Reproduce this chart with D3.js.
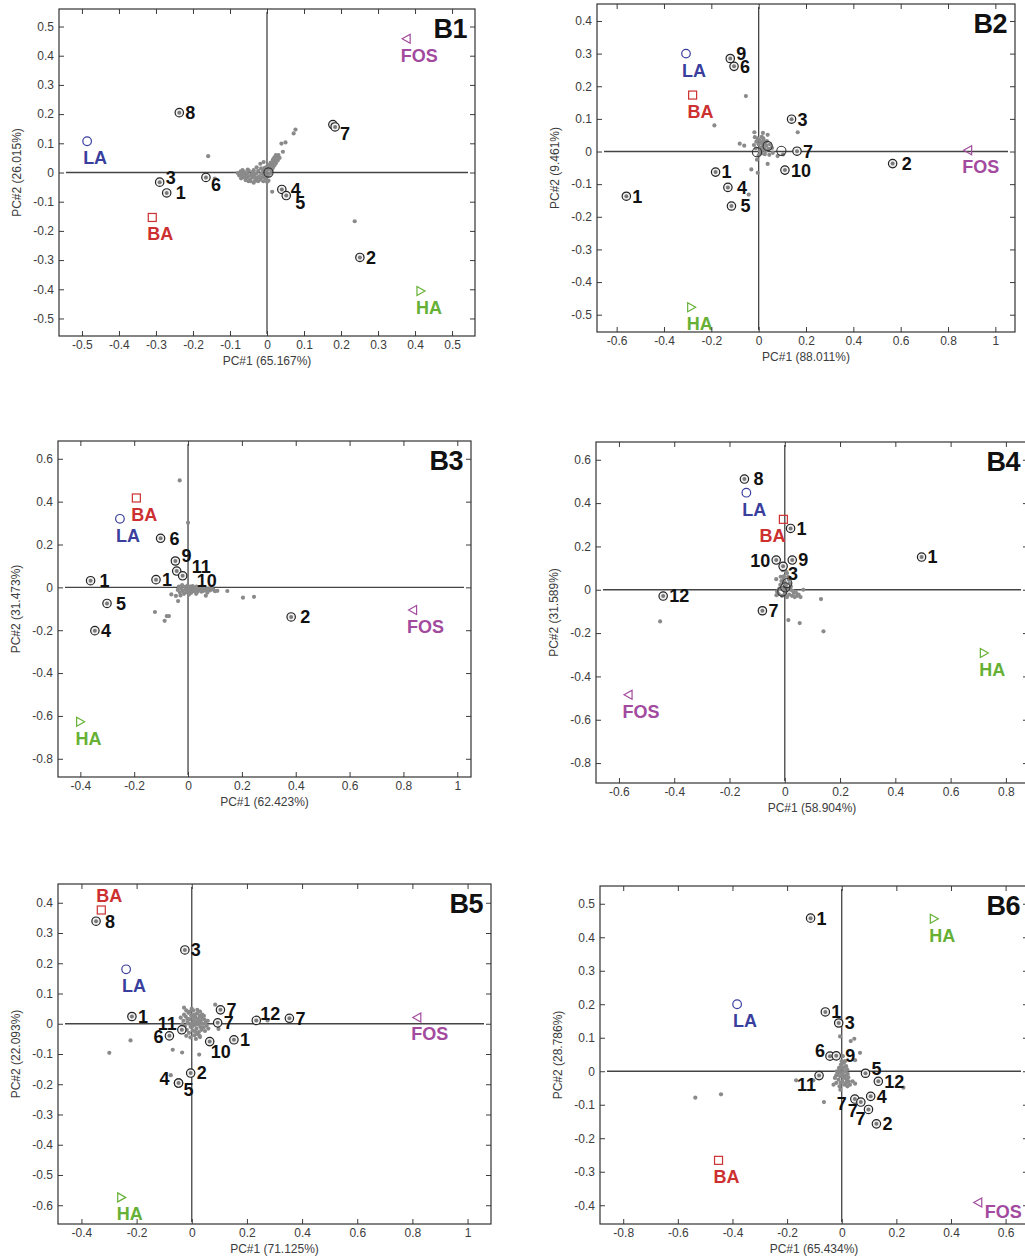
<!DOCTYPE html>
<html>
<head>
<meta charset="utf-8">
<script src="https://cdn.jsdelivr.net/npm/d3@7"></script>
<style>
  body { margin: 0; background: #fff; }
  svg text { font-family: "Liberation Sans", Arial, Helvetica, sans-serif; }
</style>
</head>
<body>
<svg id="chart" width="1025" height="1260"></svg>
<script>
// ---------- data ----------
const refNames = ["LA", "BA", "FOS", "HA"];
const refColors = ["#3a3f9e", "#cc3030", "#a24a9e", "#66b135"];

// B1
const b1Var = ["65.167%", "26.015%"];
const b1XDom = [-0.562, 0.562], b1YDom = [-0.56, 0.56];
const b1XTicks = [-0.5, -0.4, -0.3, -0.2, -0.1, 0, 0.1, 0.2, 0.3, 0.4, 0.5];
const b1YTicks = [-0.5, -0.4, -0.3, -0.2, -0.1, 0, 0.1, 0.2, 0.3, 0.4, 0.5];
const b1Refs = [[-0.486, 0.107], [-0.310, -0.154], [0.376, 0.458], [0.416, -0.406]];
const b1Pts = [[-0.237, 0.205, "8"], [-0.290, -0.033, "3"], [-0.271, -0.070, "1"], [-0.165, -0.017, "6"],
  [0.040, -0.058, "4"], [0.052, -0.079, "5"], [0.178, 0.164, ""], [0.184, 0.156, "7"], [0.251, -0.291, "2"]];
const b1Rings = [[0.004, 0.0]];
const b1Gray = [[-0.079,-0.002],[-0.075,-0.010],[-0.071,0.004],[-0.068,-0.006],[-0.065,-0.016],[-0.062,0.002],
  [-0.060,-0.009],[-0.057,-0.020],[-0.054,-0.003],[-0.051,-0.013],[-0.049,0.006],[-0.046,-0.024],[-0.043,-0.008],
  [-0.040,-0.017],[-0.038,0.001],[-0.035,-0.011],[-0.032,-0.028],[-0.029,-0.004],[-0.027,-0.019],[-0.024,0.006],
  [-0.021,-0.013],[-0.018,-0.024],[-0.015,-0.003],[-0.012,-0.016],[-0.010,0.008],[-0.007,-0.008],[-0.004,-0.021],
  [-0.002,0.004],[0.002,-0.012],[0.005,0.012],[0.008,-0.004],[0.010,0.020],[0.012,0.008],[0.014,0.028],[0.016,0.016],
  [0.018,0.036],[0.020,0.024],[0.022,0.044],[0.024,0.032],[0.026,0.052],[0.029,0.041],[0.031,0.060],[0.034,0.050],
  [-0.018,0.030],[-0.009,0.036],[-0.028,0.018],[-0.036,-0.035],[0.014,-0.066],[0.039,0.099],[0.050,0.103],
  [0.043,0.071],[0.072,0.134],[0.077,0.147],[-0.159,0.056],[0.237,-0.167],[-0.141,-0.021],[-0.050,-0.030],[0.004,-0.028],
  [-0.070,-0.020],[-0.066,0.008],[-0.058,-0.026],[-0.052,0.010],[-0.044,-0.030],[-0.036,0.008],[-0.030,-0.020],
  [-0.024,-0.030],[-0.016,0.014],[-0.006,0.016],[0.000,0.020],[0.006,0.026],[0.010,0.034],[0.016,0.044],
  [0.020,0.052],[0.024,0.060],[0.000,-0.032],[-0.010,-0.030]];

// B2
const b2Var = ["88.011%", "9.461%"];
const b2XDom = [-0.683, 1.083], b2YDom = [-0.553, 0.452];
const b2XTicks = [-0.6, -0.4, -0.2, 0, 0.2, 0.4, 0.6, 0.8, 1];
const b2YTicks = [-0.5, -0.4, -0.3, -0.2, -0.1, 0, 0.1, 0.2, 0.3, 0.4];
const b2Refs = [[-0.307, 0.300], [-0.279, 0.173], [0.883, 0.004], [-0.283, -0.477]];
const b2Pts = [[-0.120, 0.285, "9"], [-0.104, 0.261, "6"], [0.139, 0.099, "3"], [0.162, 0.001, "7"],
  [0.111, -0.057, "10"], [-0.182, -0.063, "1"], [-0.130, -0.110, "4"], [-0.115, -0.167, "5"],
  [-0.559, -0.137, "1"], [0.566, -0.037, "2"]];
const b2Rings = [[0.096, 0.002], [0.038, 0.017], [-0.007, -0.002]];
const b2Gray = [[-0.054,0.170],[-0.187,0.080],[0.165,0.059],[-0.080,0.024],[-0.061,0.018],[-0.018,0.059],[0.018,0.057],
  [0.038,0.051],[0.056,0.011],[0.080,-0.014],[0.103,-0.009],[0.038,-0.038],[-0.007,-0.025],[-0.031,-0.055],
  [-0.004,-0.065],[-0.042,-0.132],[-0.010,0.030],[-0.005,0.040],[0.000,0.022],[0.004,0.035],[0.008,0.012],
  [0.010,0.028],[0.013,0.045],[0.015,0.005],[0.018,0.020],[0.021,0.033],[0.024,0.010],[0.027,0.025],[0.030,0.002],
  [0.033,0.018],[0.005,0.002],[-0.012,0.010],[0.012,-0.006],[0.026,-0.008],[0.042,0.008],[0.048,0.022],
  [0.060,-0.004],[-0.020,0.020],[0.000,-0.012],[0.020,0.040],[0.035,0.032],[0.045,-0.010],[-0.016,0.044]];

// B3
const b3Var = ["62.423%", "31.473%"];
const b3XDom = [-0.483, 1.051], b3YDom = [-0.885, 0.683];
const b3XTicks = [-0.4, -0.2, 0, 0.2, 0.4, 0.6, 0.8, 1];
const b3YTicks = [-0.8, -0.6, -0.4, -0.2, 0, 0.2, 0.4, 0.6];
const b3Refs = [[-0.253, 0.320], [-0.192, 0.417], [0.834, -0.106], [-0.399, -0.627]];
const b3Pts = [[-0.102, 0.229, "6"], [-0.047, 0.123, "9"], [-0.042, 0.076, "11"], [-0.020, 0.054, "10"],
  [-0.119, 0.036, "1"], [-0.362, 0.031, "1"], [-0.301, -0.075, "5"], [-0.346, -0.202, "4"], [0.383, -0.138, "2"]];
const b3Rings = [];
const b3Gray = [[-0.031,0.499],[0.000,0.302],[-0.062,-0.033],[-0.037,-0.064],[-0.123,-0.115],[-0.087,-0.156],
  [-0.079,-0.134],[-0.071,-0.134],[0.146,-0.017],[0.204,-0.048],[0.245,-0.044],[0.066,-0.039],[0.109,-0.016],
  [-0.038,-0.012],[-0.034,0.004],[-0.030,-0.024],[-0.026,-0.006],[-0.022,0.010],[-0.019,-0.016],[-0.015,-0.030],
  [-0.012,0.002],[-0.009,-0.010],[-0.005,-0.022],[-0.002,0.008],[0.002,-0.004],[0.005,-0.016],[0.008,0.004],
  [0.011,-0.026],[0.014,-0.008],[0.017,0.006],[0.020,-0.018],[0.024,-0.002],[0.027,-0.012],[0.031,0.004],
  [0.034,-0.022],[0.038,-0.006],[0.042,-0.014],[0.046,0.002],[0.050,-0.020],[0.054,-0.008],[0.058,-0.016],
  [0.062,-0.002],[0.067,-0.012],[0.072,-0.024],[0.077,-0.006],[0.082,-0.014],[0.088,-0.004],[0.094,-0.010],
  [0.100,-0.018],[-0.045,-0.040],[-0.028,-0.038],[0.003,-0.034],[0.030,-0.030]];

// B4
const b4Var = ["58.904%", "31.589%"];
const b4XDom = [-0.683, 0.880], b4YDom = [-0.892, 0.682];
const b4XTicks = [-0.6, -0.4, -0.2, 0, 0.2, 0.4, 0.6, 0.8];
const b4YTicks = [-0.8, -0.6, -0.4, -0.2, 0, 0.2, 0.4, 0.6];
const b4Refs = [[-0.139, 0.448], [-0.005, 0.325], [-0.567, -0.485], [0.722, -0.292]];
const b4Pts = [[-0.146, 0.511, "8"], [0.021, 0.283, "1"], [-0.031, 0.137, "10"], [0.027, 0.137, "9"],
  [-0.006, 0.108, "3"], [-0.440, -0.029, "12"], [-0.081, -0.097, "7"], [0.495, 0.151, "1"]];
const b4Rings = [[0.009, 0.031], [0.002, 0.011], [-0.009, -0.008]];
const b4Gray = [[-0.451,-0.146],[0.131,-0.043],[0.140,-0.192],[0.054,-0.154],[0.013,-0.140],[-0.031,0.049],
  [0.067,0.000],[0.057,-0.034],[-0.004,0.062],[0.008,0.077],[0.015,0.046],[-0.016,0.023],[0.002,0.015],
  [0.021,0.000],[0.033,-0.015],[0.045,-0.028],[-0.028,-0.008],[-0.010,-0.028],[0.008,-0.034],[-0.008,0.090],
  [0.004,0.085],[0.012,0.060],[-0.012,0.040],[0.000,0.035],[0.018,0.030],[-0.020,0.005],[-0.005,0.000],
  [0.010,0.005],[0.028,-0.005],[0.040,-0.012],[0.050,-0.022],[-0.022,-0.020],[0.000,-0.018],[0.016,-0.022],
  [0.026,-0.028],[0.036,-0.034],[-0.004,0.050],[0.006,0.025],[-0.030,-0.025],[0.022,0.015],[-0.015,0.060]];

// B5
const b5Var = ["71.125%", "22.093%"];
const b5XDom = [-0.485, 1.085], b5YDom = [-0.662, 0.462];
const b5XTicks = [-0.4, -0.2, 0, 0.2, 0.4, 0.6, 0.8, 1];
const b5YTicks = [-0.6, -0.5, -0.4, -0.3, -0.2, -0.1, 0, 0.1, 0.2, 0.3, 0.4];
const b5Refs = [[-0.238, 0.180], [-0.328, 0.376], [0.816, 0.021], [-0.254, -0.574]];
const b5Pts = [[-0.347, 0.339, "8"], [-0.025, 0.244, "3"], [-0.217, 0.024, "1"], [-0.036, -0.020, "11"],
  [-0.081, -0.040, "6"], [0.104, 0.046, "7"], [0.094, 0.003, "7"], [0.234, 0.011, "12"], [0.354, 0.018, "7"],
  [0.153, -0.053, "1"], [0.065, -0.059, "10"], [-0.004, -0.163, "2"], [-0.048, -0.196, "4"], [-0.048, -0.196, "5"]];
const b5Rings = [];
const b5Gray = [[-0.028,0.053],[0.085,0.063],[-0.069,-0.086],[-0.035,-0.095],[0.027,-0.102],[-0.076,-0.170],
  [-0.222,-0.055],[-0.299,-0.096],[0.097,-0.017],[0.030,-0.044],[0.275,0.011],[-0.030,0.010],[-0.025,-0.008],
  [-0.022,0.024],[-0.018,-0.020],[-0.015,0.004],[-0.012,0.036],[-0.010,-0.030],[-0.007,0.015],[-0.004,-0.010],
  [-0.002,0.028],[0.001,0.002],[0.003,-0.022],[0.005,0.044],[0.007,0.012],[0.009,-0.038],[0.011,-0.004],
  [0.013,0.022],[0.015,0.008],[0.017,-0.016],[0.019,0.034],[0.021,-0.002],[0.023,0.016],[0.025,-0.028],
  [0.027,0.004],[0.029,0.026],[0.031,-0.010],[0.033,0.010],[0.035,-0.020],[0.037,0.020],[0.040,0.000],
  [0.043,-0.012],[0.046,0.014],[0.050,0.004],[0.054,-0.006],[-0.020,0.044],[0.000,0.050],[0.020,0.046],
  [-0.005,-0.045],[0.015,-0.050],[-0.035,-0.002],[0.058,0.010],[0.010,0.030],[-0.010,0.000],[0.030,0.040],
  [-0.028,0.030],[-0.016,0.016],[-0.008,0.040],[0.004,0.024],[0.012,-0.026],[0.020,-0.034],[0.028,-0.040],
  [0.038,0.030],[0.044,0.026],[0.048,-0.024],[0.002,-0.008],[0.016,0.000],[0.024,0.004],[0.008,0.006],
  [-0.020,-0.040],[0.060,-0.016],[-0.040,0.020]];

// B6
const b6Var = ["65.434%", "28.786%"];
const b6XDom = [-0.885, 0.682], b6YDom = [-0.456, 0.553];
const b6XTicks = [-0.8, -0.6, -0.4, -0.2, 0, 0.2, 0.4, 0.6];
const b6YTicks = [-0.4, -0.3, -0.2, -0.1, 0, 0.1, 0.2, 0.3, 0.4, 0.5];
const b6Refs = [[-0.383, 0.200], [-0.451, -0.266], [0.498, -0.392], [0.339, 0.455]];
const b6Pts = [[-0.114, 0.457, "1"], [-0.060, 0.177, "1"], [-0.011, 0.144, "3"], [-0.043, 0.045, "6"],
  [-0.020, 0.046, "9"], [0.087, -0.006, "5"], [-0.083, -0.013, "11"], [0.134, -0.030, "12"], [0.106, -0.075, "4"],
  [0.048, -0.083, "7"], [0.070, -0.092, "7"], [0.098, -0.114, "7"], [0.127, -0.157, "2"]];
const b6Rings = [];
const b6Gray = [[-0.006,0.104],[0.033,0.090],[0.046,0.097],[0.067,0.055],[0.049,0.033],[0.049,-0.037],
  [0.021,-0.045],[-0.167,-0.027],[-0.104,-0.027],[-0.065,-0.092],[0.226,-0.049],[-0.536,-0.079],[-0.442,-0.069],
  [0.040,-0.030],[-0.025,-0.020],[-0.020,-0.035],[-0.016,-0.010],[-0.012,-0.025],[-0.010,0.010],[-0.008,-0.045],
  [-0.005,-0.015],[-0.003,0.020],[0.000,-0.005],[0.002,-0.030],[0.004,0.008],[0.006,-0.018],[0.008,0.025],
  [0.010,-0.040],[0.012,0.000],[0.014,-0.012],[0.016,0.015],[0.018,-0.025],[0.022,-0.008],[0.026,-0.030],
  [-0.018,0.000],[0.000,0.030],[-0.030,-0.040],[0.030,-0.040],[-0.005,-0.055],[0.020,0.005],
  [-0.012,-0.005],[0.004,-0.010],[0.010,-0.020],[-0.004,-0.035],[0.016,-0.035],[0.008,0.012],[-0.008,0.004],
  [0.024,-0.018],[0.000,0.012],[-0.020,-0.012],[0.012,0.030],[0.004,0.045]];

// ---------- layout ----------
// label placement around each marked point: [dx, dy(center), anchor]
const nudge = {
  e: [6, 0, "start"], E: [9, 0, "start"], ne: [6, -5, "start"], NE: [4, -7, "start"],
  se: [5, 7, "start"], SE: [9, 7, "start"], s: [1, 10, "start"], ee: [15, -4, "start"], ese: [14, 5, "start"],
  w: [-6, 1, "end"], wnw: [-9, -4, "end"], wsw: [-8, 5, "end"], nw: [-5, -6, "end"], sw: [-3, 9, "end"]
};
const panels = [
  { name: "B1", box: [59, 9, 475, 336], v: b1Var, xd: b1XDom, yd: b1YDom, xt: b1XTicks, yt: b1YTicks,
    refs: b1Refs, refSide: ["b", "b", "b", "b"], pts: b1Pts, rings: b1Rings, gray: b1Gray,
    side: ["e", "ne", "E", "se", "E", "SE", "", "se", "e"] },
  { name: "B2", box: [597, 4, 1015, 332], v: b2Var, xd: b2XDom, yd: b2YDom, xt: b2XTicks, yt: b2YTicks,
    refs: b2Refs, refSide: ["b", "b", "b", "b"], pts: b2Pts, rings: b2Rings, gray: b2Gray,
    side: ["ne", "e", "e", "e", "e", "e", "E", "E", "e", "E"] },
  { name: "B3", box: [58, 441, 471, 777], v: b3Var, xd: b3XDom, yd: b3YDom, xt: b3XTicks, yt: b3YTicks,
    refs: b3Refs, refSide: ["b", "b", "b", "b"], pts: b3Pts, rings: b3Rings, gray: b3Gray,
    side: ["E", "ne", "ee", "ese", "e", "E", "E", "e", "E"] },
  { name: "B4", box: [596, 442, 1028, 783], v: b4Var, xd: b4XDom, yd: b4YDom, xt: b4XTicks, yt: b4YTicks,
    refs: b4Refs, refSide: ["b", "bl", "b", "b"], pts: b4Pts, rings: b4Rings, gray: b4Gray,
    side: ["E", "e", "w", "e", "se", "e", "e", "e"] },
  { name: "B5", box: [58, 884, 491, 1224], v: b5Var, xd: b5XDom, yd: b5YDom, xt: b5XTicks, yt: b5YTicks,
    refs: b5Refs, refSide: ["b", "a", "b", "b"], pts: b5Pts, rings: b5Rings, gray: b5Gray,
    side: ["E", "e", "e", "nw", "w", "e", "e", "NE", "e", "e", "s", "e", "wnw", "se"] },
  { name: "B6", box: [600, 886, 1028, 1224], v: b6Var, xd: b6XDom, yd: b6YDom, xt: b6XTicks, yt: b6YTicks,
    refs: b6Refs, refSide: ["b", "b", "r", "b"], pts: b6Pts, rings: b6Rings, gray: b6Gray,
    side: ["e", "e", "e", "nw", "E", "ne", "sw", "e", "e", "wsw", "sw", "sw", "e"] }
];

const svg = d3.select("#chart");
const fmt = d => String(+d.toFixed(2));

function marker(g, i, cx, cy, col) {
  if (i === 0) {
    g.append("circle").attr("cx", cx).attr("cy", cy).attr("r", 4.3)
      .attr("fill", "none").attr("stroke", col).attr("stroke-width", 1.2);
  } else if (i === 1) {
    g.append("rect").attr("x", cx - 4).attr("y", cy - 4).attr("width", 8).attr("height", 8)
      .attr("fill", "none").attr("stroke", col).attr("stroke-width", 1.2);
  } else {
    const s = i === 2 ? 1 : -1; // FOS points left, HA points right
    g.append("path").attr("d", `M${cx + 4 * s},${cy - 4.5}L${cx - 4 * s},${cy}L${cx + 4 * s},${cy + 4.5}Z`)
      .attr("fill", "none").attr("stroke", col).attr("stroke-width", 1.2);
  }
}

function drawPanel(p) {
  const [l, t, r, b] = p.box;
  const x = d3.scaleLinear().domain(p.xd).range([l, r]);
  const y = d3.scaleLinear().domain(p.yd).range([b, t]);
  const g = svg.append("g");

  // zero lines
  g.append("line").attr("x1", l + 7).attr("x2", r - 7).attr("y1", y(0)).attr("y2", y(0))
    .attr("stroke", "#444").attr("stroke-width", 1.3);
  g.append("line").attr("x1", x(0)).attr("x2", x(0)).attr("y1", t + 3).attr("y2", b - 2)
    .attr("stroke", "#444").attr("stroke-width", 1.3);

  // gray loadings
  g.selectAll(".gd").data(p.gray).enter().append("circle")
    .attr("cx", d => x(d[0])).attr("cy", d => y(d[1])).attr("r", 2.1).attr("fill", "#8a8a8a");

  // open rings
  g.selectAll(".rg").data(p.rings).enter().append("circle")
    .attr("cx", d => x(d[0])).attr("cy", d => y(d[1])).attr("r", 4.6)
    .attr("fill", "none").attr("stroke", "#333").attr("stroke-width", 1.1);

  // marked points
  p.pts.forEach((d, i) => {
    const cx = x(d[0]), cy = y(d[1]);
    g.append("circle").attr("cx", cx).attr("cy", cy).attr("r", 4.2)
      .attr("fill", "#f0f0f0").attr("stroke", "#222").attr("stroke-width", 1.2);
    g.append("circle").attr("cx", cx).attr("cy", cy).attr("r", 2).attr("fill", "#7a7a7a");
    if (d[2]) {
      const n = nudge[p.side[i]];
      g.append("text").attr("x", cx + n[0]).attr("y", cy + n[1] + 6.4)
        .attr("text-anchor", n[2]).attr("font-size", 18).attr("font-weight", "bold")
        .attr("fill", "#111").text(d[2]);
    }
  });

  // reference markers
  p.refs.forEach((d, i) => {
    const cx = x(d[0]), cy = y(d[1]), col = refColors[i];
    marker(g, i, cx, cy, col);
    const sd = p.refSide[i];
    let tx = cx + (i === 2 ? 13 : 8), ty = cy + 23, anchor = "middle";
    if (sd === "bl") tx = cx - 11;
    if (sd === "a") ty = cy - 8;
    if (sd === "r") { tx = cx + 7; ty = cy + 15; anchor = "start"; }
    g.append("text").attr("x", tx).attr("y", ty).attr("text-anchor", anchor)
      .attr("font-size", 18).attr("font-weight", "bold").attr("fill", col).text(refNames[i]);
  });

  // axes (ticks inside, on all four sides)
  const ax = (gen, tx, ty) => g.append("g").attr("transform", `translate(${tx},${ty})`).call(gen)
    .call(s => s.select(".domain").remove())
    .attr("font-size", 12).attr("font-family", null).attr("color", "#3c3c3c");
  ax(d3.axisBottom(x).tickValues(p.xt).tickFormat(fmt).tickSizeInner(-5).tickSizeOuter(0).tickPadding(4), 0, b);
  ax(d3.axisTop(x).tickValues(p.xt).tickFormat("").tickSizeInner(-5).tickSizeOuter(0), 0, t);
  ax(d3.axisLeft(y).tickValues(p.yt).tickFormat(fmt).tickSizeInner(-5).tickSizeOuter(0).tickPadding(5), l, 0);
  ax(d3.axisRight(y).tickValues(p.yt).tickFormat("").tickSizeInner(-5).tickSizeOuter(0), r, 0);

  g.append("rect").attr("x", l).attr("y", t).attr("width", r - l).attr("height", b - t)
    .attr("fill", "none").attr("stroke", "#333").attr("stroke-width", 1.2);

  // axis titles
  g.append("text").attr("x", (l + r) / 2).attr("y", b + 29).attr("text-anchor", "middle")
    .attr("font-size", 12).attr("fill", "#3c3c3c").text(`PC#1 (${p.v[0]})`);
  g.append("text").attr("transform", `translate(${l - 38},${(t + b) / 2}) rotate(-90)`)
    .attr("text-anchor", "middle").attr("font-size", 12).attr("fill", "#3c3c3c").text(`PC#2 (${p.v[1]})`);

  // panel tag
  g.append("text").attr("x", r - 8).attr("y", t + 29).attr("text-anchor", "end")
    .attr("font-size", 27).attr("font-weight", "bold").attr("letter-spacing", -0.5)
    .attr("fill", "#111").text(p.name);
}

panels.forEach(drawPanel);
</script>
</body>
</html>
